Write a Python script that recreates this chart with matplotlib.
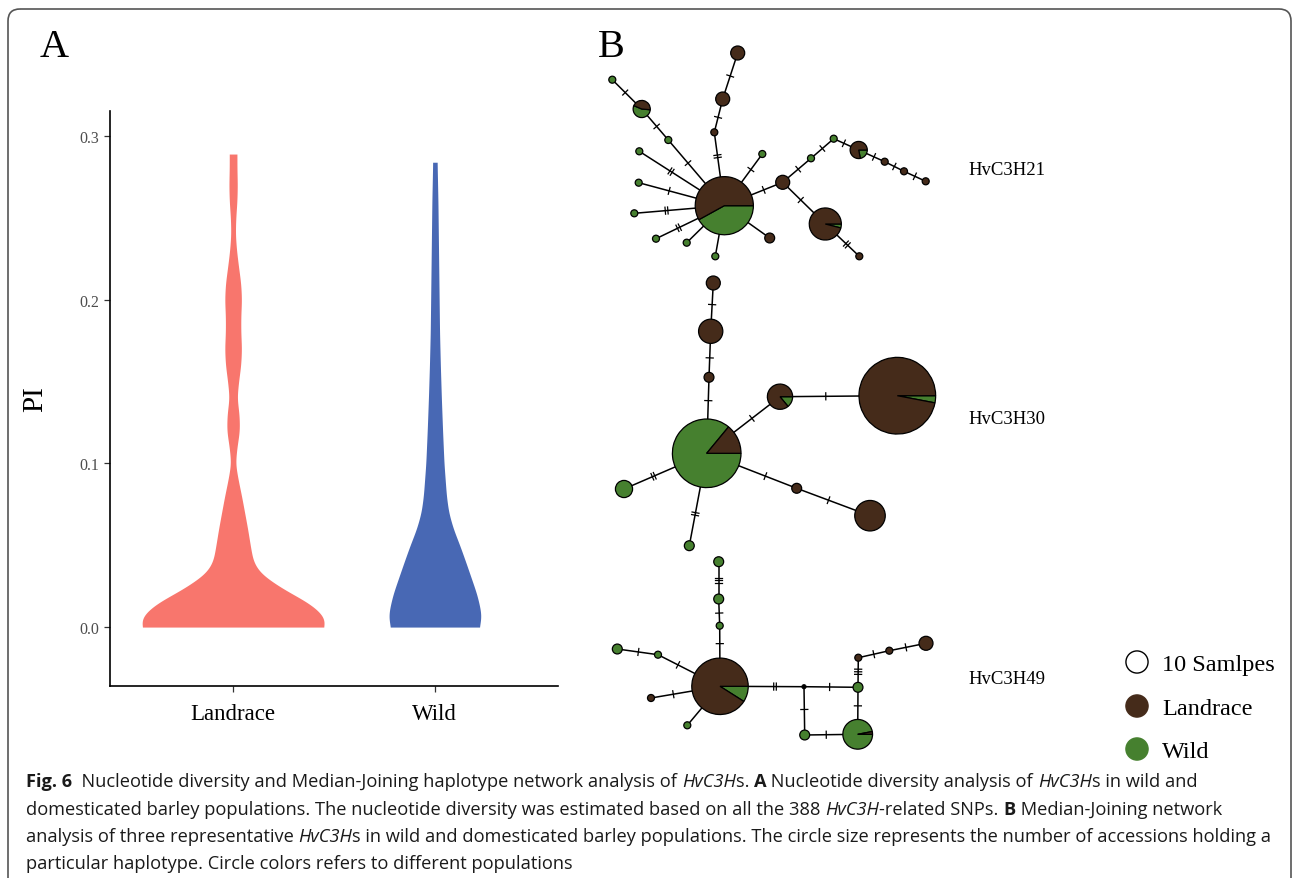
import matplotlib
matplotlib.use('Agg')
import matplotlib.pyplot as plt
import numpy as np
from matplotlib.patches import Wedge, Circle, FancyBboxPatch
from matplotlib import font_manager

# -----------------------------------------------------------------------------
# A. nucleotide diversity (violin outlines)
# -----------------------------------------------------------------------------
groups = ['Landrace', 'Wild']
group_colors = ['#F8766D', '#4868B4']

land_pi = [0.000, 0.004, 0.010, 0.016, 0.022, 0.028, 0.033, 0.040, 0.050, 0.060,
           0.070, 0.080, 0.090, 0.100, 0.110, 0.120, 0.130, 0.140, 0.150, 0.160,
           0.170, 0.180, 0.190, 0.200, 0.210, 0.220, 0.230, 0.240, 0.250, 0.260,
           0.270, 0.280, 0.289]
land_dens = [0.445, 0.464, 0.426, 0.360, 0.265, 0.190, 0.133, 0.099, 0.085, 0.072,
             0.057, 0.042, 0.025, 0.011, 0.019, 0.032, 0.030, 0.019, 0.027, 0.038,
             0.042, 0.038, 0.038, 0.042, 0.038, 0.027, 0.017, 0.011, 0.013, 0.019,
             0.021, 0.019, 0.019]

wild_pi = [0.000, 0.005, 0.010, 0.020, 0.030, 0.040, 0.050, 0.060, 0.070, 0.080,
           0.090, 0.100, 0.120, 0.140, 0.160, 0.180, 0.200, 0.220, 0.240, 0.260,
           0.284]
wild_dens = [0.218, 0.231, 0.227, 0.208, 0.180, 0.152, 0.123, 0.091, 0.068, 0.057,
             0.051, 0.045, 0.038, 0.032, 0.027, 0.023, 0.021, 0.019, 0.017, 0.015,
             0.011]

# -----------------------------------------------------------------------------
# B. haplotype networks: layout position, haplotype count, wild share, mutations
# -----------------------------------------------------------------------------
net21_x = [724.3, 737.7, 722.7, 714.3, 612.3, 641.7, 668.3, 639.3, 638.7, 634.3, 656.0, 686.7,
           715.3, 762.3, 769.7, 782.7, 811.0, 833.7, 858.7, 884.7, 904.0, 925.7, 825.3, 859.3]
net21_y = [206.7, 54.0, 100.0, 133.3, 80.7, 110.0, 141.0, 152.3, 183.7, 214.3, 239.7, 243.7,
           257.3, 155.0, 239.0, 183.3, 159.3, 139.7, 151.0, 162.7, 172.3, 182.3, 225.0, 257.3]
net21_n = [69, 4, 4, 1, 1, 6, 1, 1, 1, 1, 1, 1, 1, 1, 2, 4, 1, 1, 6, 1, 1, 1, 21, 1]
net21_wild = [0.42, 0, 0, 0, 1, 0.55, 1, 1, 1, 1, 1, 1, 1, 1, 0, 0, 1, 1, 0.22, 0, 0, 0, 0.04, 0]
net21_split = [0, 0, 0, 0, 0, -5, 0, 0, 0, 0, 0, 0, 0, 0, 0, 0, 0, 0, 0, 0, 0, 0, 0, 0]
net21_edges = [(1, 2, 1), (2, 3, 1), (3, 0, 2), (4, 5, 1), (5, 6, 1), (6, 0, 1), (7, 0, 2),
               (8, 0, 1), (9, 0, 2), (10, 0, 2), (11, 0, 0), (12, 0, 0), (13, 0, 1),
               (14, 0, 0), (15, 0, 1), (15, 16, 1), (16, 17, 1), (17, 18, 1), (18, 19, 1),
               (19, 20, 1), (20, 21, 1), (15, 22, 1), (22, 23, 2)]

net30_x = [706.7, 713.3, 710.7, 709.0, 780.0, 897.3, 624.0, 689.3, 796.7, 870.0]
net30_y = [454.3, 284.0, 332.3, 378.3, 397.7, 396.7, 490.0, 546.7, 489.3, 516.7]
net30_n = [96, 4, 12, 2, 13, 120, 6, 2, 2, 19]
net30_wild = [0.86, 0, 0, 0, 0.14, 0.03, 1, 1, 0, 0]
net30_split = [0] * 10
net30_edges = [(1, 2, 1), (2, 3, 1), (3, 0, 1), (0, 4, 1), (4, 5, 1), (0, 6, 2), (0, 7, 2),
               (0, 8, 1), (8, 9, 1)]

net49_x = [720.0, 718.7, 718.7, 719.7, 617.3, 658.0, 651.0, 687.3, 804.0, 858.0, 858.3,
           889.3, 926.0, 804.7, 857.7]
net49_y = [687.3, 562.7, 600.0, 626.7, 650.0, 655.7, 699.0, 726.3, 687.7, 688.3, 658.7,
           651.7, 644.3, 736.0, 735.3]
net49_n = [65, 2, 2, 1, 2, 1, 1, 1, 0, 2, 1, 1, 4, 2, 18]   # 0 = median vector
net49_wild = [0.09, 1, 1, 1, 1, 1, 0, 1, 0, 1, 0, 0, 0, 1, 0.97]
net49_split = [0] * 15
net49_edges = [(1, 2, 3), (2, 3, 1), (3, 0, 1), (4, 5, 1), (5, 0, 1), (6, 0, 1), (7, 0, 0),
               (0, 8, 2), (8, 9, 1), (8, 13, 1), (13, 14, 1), (9, 14, 1), (9, 10, 3),
               (10, 11, 1), (11, 12, 1)]

net_names = ['HvC3H21', 'HvC3H30', 'HvC3H49']
legend_labels = ['10 Samlpes', 'Landrace', 'Wild']

BROWN = '#452B1A'
GREEN = '#46802F'
SERIF = 'Liberation Serif'
names = {f.name for f in font_manager.fontManager.ttflist}
SANS = 'Open Sans' if 'Open Sans' in names else 'DejaVu Sans'

W, H = 1293, 879
fig = plt.figure(figsize=(W / 100, H / 100), dpi=100)


def smooth_outline(pi, dens, sigma=0.0035):
    # resample the read-off outline and soften the corners
    yy = np.linspace(pi[0], pi[-1], 600)
    ww = np.interp(yy, pi, dens)
    step = yy[1] - yy[0]
    k = np.arange(-int(4 * sigma / step), int(4 * sigma / step) + 1) * step
    ker = np.exp(-0.5 * (k / sigma) ** 2)
    ker /= ker.sum()
    pad = len(k) // 2
    wp = np.concatenate([np.full(pad, ww[0]), ww, np.full(pad, ww[-1])])
    return yy, np.convolve(wp, ker, mode='valid')


# ---- panel A --------------------------------------------------------------
ax_a = fig.add_axes([110 / W, 1 - 687 / H, 448 / W, 575 / H])
for i, (pi, dens) in enumerate([(land_pi, land_dens), (wild_pi, wild_dens)]):
    pos = i + 1
    yy, ww = smooth_outline(pi, dens)
    ax_a.fill_betweenx(yy, pos - ww, pos + ww, color=group_colors[i], lw=0)
ax_a.set_xlim(0.39, 2.61)
ax_a.set_ylim(-0.036, 0.3153)
ax_a.set_xticks([1, 2])
ax_a.set_xticklabels(groups, fontfamily=SERIF, fontsize=16.5, color='black')
ax_a.set_yticks([0.0, 0.1, 0.2, 0.3])
ax_a.set_yticklabels(['0.0', '0.1', '0.2', '0.3'], fontfamily=SERIF, fontsize=11.5,
                     color='#4D4D4D')
ax_a.tick_params(axis='both', length=4, width=0.9, color='#333333')
ax_a.tick_params(axis='x', pad=8)
ax_a.tick_params(axis='y', pad=4)
for s in ['top', 'right']:
    ax_a.spines[s].set_visible(False)
for s in ['left', 'bottom']:
    ax_a.spines[s].set_linewidth(1.2)
ax_a.set_ylabel('PI', fontfamily=SERIF, fontsize=21, labelpad=22)
ax_a.patch.set_alpha(0)

# ---- overlay in pixel units for panel B, labels and caption ---------------
ax = fig.add_axes([0, 0, 1, 1])
ax.set_xlim(0, W)
ax.set_ylim(H, 0)
ax.axis('off')
ax.patch.set_alpha(0)

ax.add_patch(FancyBboxPatch((8, 10), W - 10, 950, boxstyle='round,pad=0,rounding_size=12',
                            fc='none', ec='#555555', lw=1.2))

ax.text(40, 57, 'A', fontfamily=SERIF, fontsize=29, ha='left', va='baseline')
ax.text(598, 57, 'B', fontfamily=SERIF, fontsize=29, ha='left', va='baseline')

K = 3.5   # radius per sqrt(sample)


def draw_net(xs, ys, ns, wild, split, edges):
    rad = [K * np.sqrt(n) if n > 0 else 2.2 for n in ns]
    for a, b, m in edges:
        p = np.array([xs[a], ys[a]])
        q = np.array([xs[b], ys[b]])
        ax.plot([p[0], q[0]], [p[1], q[1]], color='black', lw=1.1, zorder=2)
        if m == 0:
            continue
        d = q - p
        L = np.hypot(*d)
        u = d / L
        v = np.array([-u[1], u[0]])
        s0 = rad[a] + (L - rad[a] - rad[b]) / 2
        for k in range(m):
            c = p + u * (s0 + (k - (m - 1) / 2) * 2.6)
            e1, e2 = c - v * 3.5, c + v * 3.5
            ax.plot([e1[0], e2[0]], [e1[1], e2[1]], color='black', lw=0.9, zorder=2)
    for i in range(len(xs)):
        c = (xs[i], ys[i])
        if ns[i] == 0:
            ax.add_patch(Circle(c, rad[i], fc='black', ec='black', lw=0.5, zorder=3))
            continue
        f = wild[i]
        if f <= 0 or f >= 1:
            ax.add_patch(Circle(c, rad[i], fc=GREEN if f >= 1 else BROWN, ec='black',
                                lw=0.9, zorder=3))
            continue
        off = split[i]
        g1, g2 = off + 360 - 360 * f, off + 360      # visual angles (ccw)
        ax.add_patch(Wedge(c, rad[i], -g2, -g1, fc=GREEN, ec='black', lw=0.9, zorder=3))
        ax.add_patch(Wedge(c, rad[i], -g1, -off, fc=BROWN, ec='black', lw=0.9, zorder=3))


draw_net(net21_x, net21_y, net21_n, net21_wild, net21_split, net21_edges)
draw_net(net30_x, net30_y, net30_n, net30_wild, net30_split, net30_edges)
draw_net(net49_x, net49_y, net49_n, net49_wild, net49_split, net49_edges)

for name, yb in zip(net_names, [175, 424, 684]):
    ax.text(968, yb, name, fontfamily=SERIF, fontsize=13.5, ha='left', va='baseline')

# legend
leg_fc = ['white', BROWN, GREEN]
for lab, fc, yc in zip(legend_labels, leg_fc, [663, 707, 750]):
    ax.add_patch(Circle((1137, yc), K * np.sqrt(10), fc=fc, ec='black' if fc == 'white' else fc,
                        lw=1.0, zorder=3))
    ax.text(1162, yc + 8, lab, fontfamily=SERIF, fontsize=17.5, ha='left', va='baseline')

# ---- caption ---------------------------------------------------------------
cap_lines = [
    [('Fig. 6', 'bold'), ('  Nucleotide diversity and Median-Joining haplotype network analysis of ', 'normal'),
     ('HvC3H', 'italic'), ('s. ', 'normal'), ('A', 'bold'), (' Nucleotide diversity analysis of ', 'normal'),
     ('HvC3H', 'italic'), ('s in wild and', 'normal')],
    [('domesticated barley populations. The nucleotide diversity was estimated based on all the 388 ', 'normal'),
     ('HvC3H', 'italic'), ('-related SNPs. ', 'normal'), ('B', 'bold'), (' Median-Joining network', 'normal')],
    [('analysis of three representative ', 'normal'), ('HvC3H', 'italic'),
     ('s in wild and domesticated barley populations. The circle size represents the number of accessions holding a', 'normal')],
    [('particular haplotype. Circle colors refers to different populations', 'normal')],
]
renderer = fig.canvas.get_renderer()


def props(style, size):
    p = dict(fontfamily=SANS, fontsize=size, color='#1A1A1A')
    if style == 'bold':
        p['fontweight'] = 'bold'
    if style == 'italic':
        p['fontstyle'] = 'italic'
    return p


def run_width(s, style, size):
    t1 = ax.text(0, 0, s + '|', **props(style, size))
    t2 = ax.text(0, 0, '|', **props(style, size))
    w = t1.get_window_extent(renderer).width - t2.get_window_extent(renderer).width
    t1.remove()
    t2.remove()
    return w


base = 12
w3 = sum(run_width(s, st, base) for s, st in cap_lines[2])
size = base * 1242 / w3
for line, yb in zip(cap_lines, [787, 815, 842, 869]):
    x = 26
    for s, st in line:
        ax.text(x, yb, s, ha='left', va='baseline', **props(st, size))
        x += run_width(s, st, size)

fig.savefig('out.png', dpi=100, facecolor='white')
